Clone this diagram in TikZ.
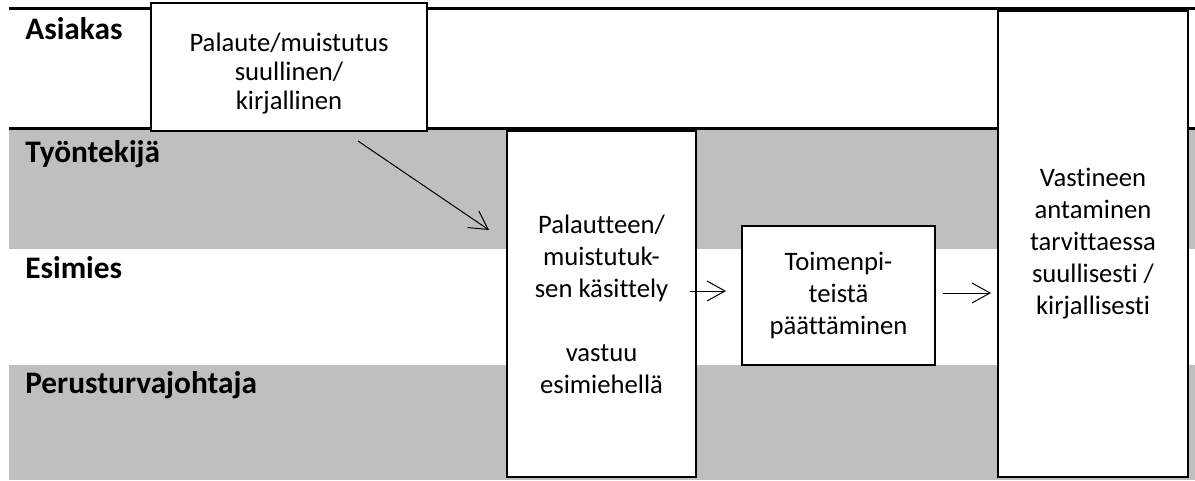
\documentclass[tikz,border=0pt]{standalone}
\usepackage{fontspec}
\setmainfont[Ligatures=NoCommon,RawFeature=-liga]{Carlito}
\usetikzlibrary{arrows.meta,calc}
\definecolor{lanegray}{RGB}{191,191,191}
\begin{document}
\begin{tikzpicture}[x=0.75pt,y=-0.75pt,
  lanefill/.style={fill=lanegray,draw=none},
  laneline/.style={line width=2.25pt},
  lanelabel/.style={anchor=base west,inner sep=0pt,font=\fontsize{23.5}{28}\selectfont\bfseries},
  procbox/.style={draw,line width=1.5pt,fill=white,align=center,inner sep=2pt,
    font=\fontsize{20}{24}\selectfont},
  boxtext/.style={align=center,inner sep=0pt,font=\fontsize{20}{22}\selectfont},
  arr/.style={line width=0.75pt,-{Straight Barb[length=13.5pt,width=15pt,line width=0.75pt]}}]
\useasboundingbox (0,0) rectangle (1195,481);
% swimlane backgrounds and separators
\fill[lanefill] (9,130) rectangle (1195,249);
\fill[lanefill] (9,365) rectangle (1195,480);
\draw[laneline] (9,9) -- (1195,9);
\draw[laneline] (9,129) -- (1195,129);
% lane titles
\node[lanelabel] (l1) at (25,40) {Asiakas};
\node[lanelabel] (l2) at (25,162) {Työntekijä};
\node[lanelabel] (l3) at (25,278) {Esimies};
\node[lanelabel] (l4) at (25,393) {Perusturvajohtaja};
% process steps
\node[procbox,minimum width=207pt,minimum height=96pt] (box1) at (289,67) {};
\node[boxtext] (t1) at ([yshift=-5]box1.center)
  {Palaute/muistutus\\suullinen/\\kirjallinen};
\node[procbox,minimum width=141.75pt,minimum height=259.5pt] (box2) at (601.5,304)
  {Palautteen/\\muistutuk-\\sen käsittely\\[24pt]vastuu\\esimiehellä};
\node[procbox,minimum width=144.75pt,minimum height=104.25pt] (box3) at (838.5,295.5)
  {Toimenpi-\\teistä\\päättäminen};
\node[procbox,minimum width=142.5pt,minimum height=349.5pt] (box4) at (1093,244)
  {Vastineen\\antaminen\\tarvittaessa\\suullisesti /\\kirjallisesti};
% flow
\draw[arr] ([shift={(69,9)}]box1.south) -- ([shift={(-17,-74)}]box2.west);
\draw[arr] ([shift={(-7,-13)}]box2.east) -- ([shift={(-15,-4.5)}]box3.west);
\draw[arr] ([shift={(7,-2.5)}]box3.east) -- ([shift={(-6,49)}]box4.west);
\end{tikzpicture}
\end{document}
